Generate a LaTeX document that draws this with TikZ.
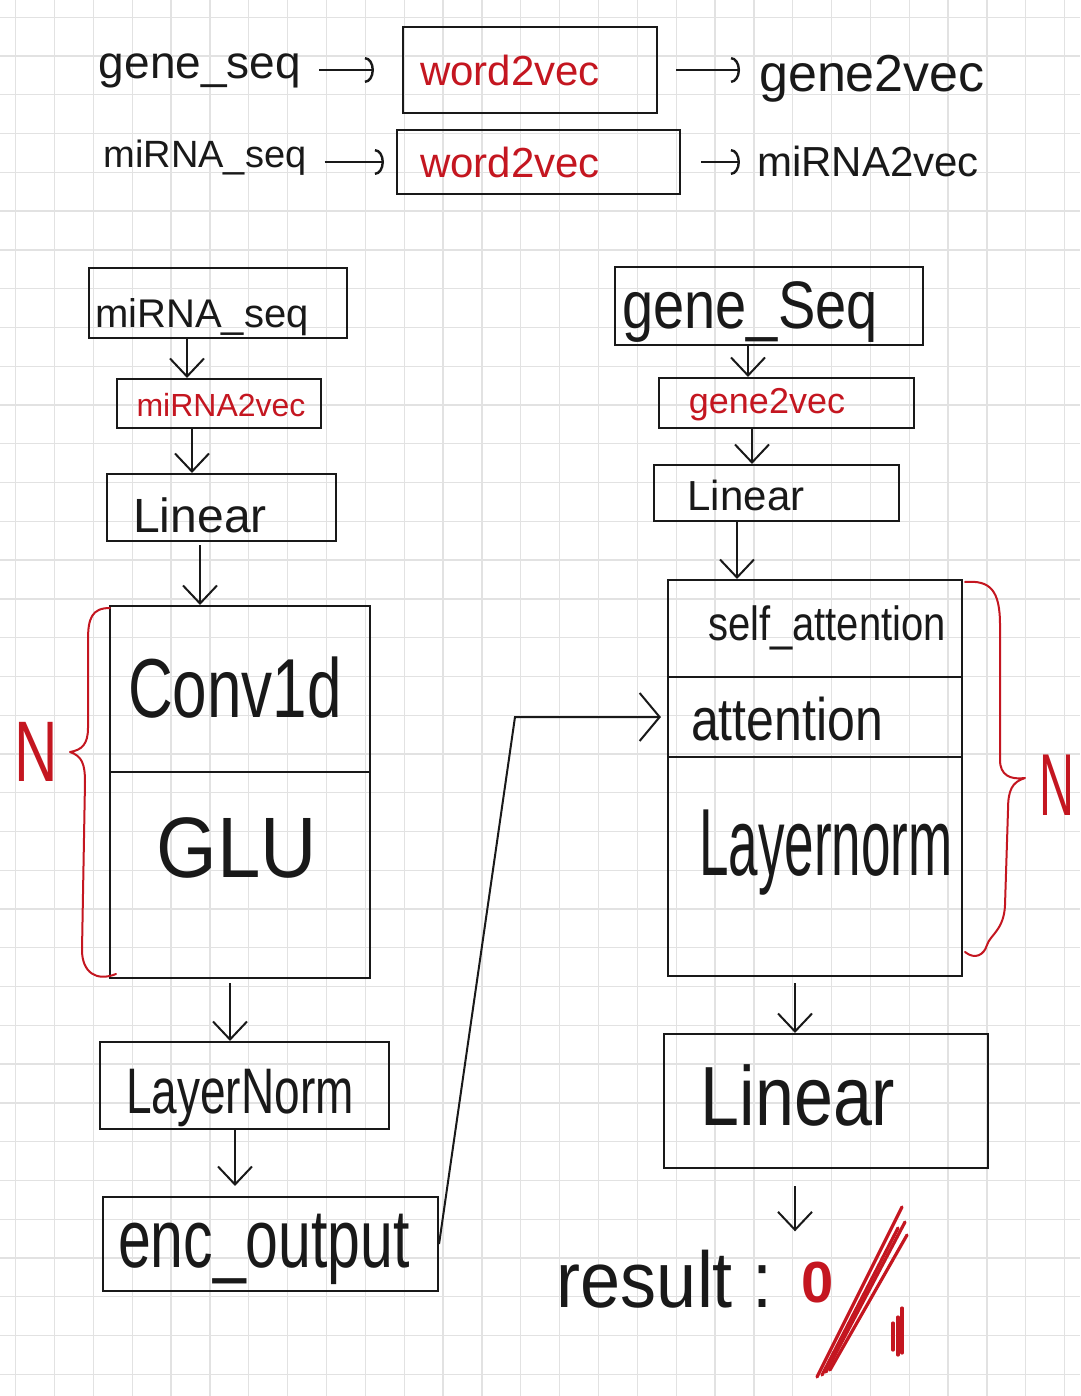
\documentclass[tikz,border=0pt]{standalone}
\usepackage{graphicx}
\usepackage{fontspec}
\setmainfont{Liberation Sans}
\usetikzlibrary{arrows.meta,calc}
\definecolor{pen}{RGB}{25,25,25}
\definecolor{ink}{RGB}{196,22,32}
\definecolor{gridc}{RGB}{226,226,226}
\newcommand\vst[2]{\scalebox{1}[#1]{#2}}
\tikzset{
  box/.style={draw=pen,line width=2.1pt,rectangle,inner sep=0pt},
  txt/.style={inner sep=0pt,text=pen,font=\fontsize{#1}{#1}\selectfont},
  rtxt/.style={inner sep=0pt,text=ink,font=\fontsize{#1}{#1}\selectfont},
  arr/.style={draw=pen,line width=2pt,-{Straight Barb[length=18pt,width=34pt]}},
  tarr/.style={draw=pen,line width=2.4pt,-{Arc Barb[length=9pt,width=26pt]}},
  bigarr/.style={draw=pen,line width=2pt,-{Straight Barb[length=20pt,width=48pt]}},
  brace/.style={draw=ink,line width=2pt,line cap=round,line join=round},
  stroke/.style={draw=ink,line width=3.2pt,line cap=round},
}
\begin{document}
\begin{tikzpicture}[x=1pt,y=-1pt]
\fill[white] (0,0) rectangle (1080,1396);
\useasboundingbox (0,0) rectangle (1080,1396);
\foreach \i in {0,...,27}{\draw[gridc,line width=1.3pt] ({15.7+38.85*\i},0) -- ({15.7+38.85*\i},1396);}
\foreach \j in {0,...,35}{\draw[gridc,line width=1.3pt] (0,{17.3+38.77*\j}) -- (1080,{17.3+38.77*\j});}

% ---------- top rows
\node[txt=46,anchor=base] (gs) at (200,79) {gene\_seq};
\node[box,minimum width=254,minimum height=86] (w1) at (530,70) {};
\node[rtxt=42] (w1t) at (510,70) {word2vec};
\node[txt=52,anchor=base] (g2v) at (872,92) {gene2vec};
\draw[tarr,shorten <=18pt,shorten >=28pt] (gs.east |- w1.west) -- (w1.west);
\draw[tarr,shorten <=18pt,shorten >=19pt] (w1.east) -- (w1.east -| g2v.west);

\node[txt=38,anchor=base] (ms) at (205,168) {miRNA\_seq};
\node[box,minimum width=283,minimum height=64] (w2) at (538.5,162) {};
\node[rtxt=42] (w2t) at (510,162) {word2vec};
\node[txt=42,anchor=base] (m2v) at (868,177) {miRNA2vec};
\draw[tarr,shorten <=18pt,shorten >=12pt] (ms.east |- w2.west) -- (w2.west);
\draw[tarr,shorten <=20pt,shorten >=17pt] (w2.east) -- (w2.east -| m2v.west);

% ---------- left column
\node[box,minimum width=258,minimum height=70] (L1) at (218,303) {};
\node[txt=40,anchor=base] (L1t) at (202,327) {miRNA\_seq};
\node[box,minimum width=204,minimum height=49] (L2) at (219,403.5) {};
\node[rtxt=32] (L2t) at (221,405) {miRNA2vec};
\node[box,minimum width=229,minimum height=67] (L3) at (221.5,507.5) {};
\node[txt=48,anchor=base] (L3t) at (200,532) {Linear};
\node[box,minimum width=260,minimum height=166] (Lcv) at (240,689) {};
\node[txt=62] (Lcvt) at (235,688) {\vst{1.35}{Conv1d}};
\node[box,minimum width=260,minimum height=206] (Lglu) at (240,875) {};
\node[txt=78] (Lglut) at (237,848) {\vst{1.1}{GLU}};
\node[box,minimum width=289,minimum height=87] (L5) at (244.5,1085.5) {};
\node[txt=46,anchor=base] (L5t) at (240,1113) {\vst{1.4}{LayerNorm}};
\node[box,minimum width=335,minimum height=94] (L6) at (270.5,1244) {};
\node[txt=59,anchor=base] (L6t) at (264,1267) {\vst{1.4}{enc\_output}};

\draw[arr] ([xshift=-31pt]L1.south) -- ([xshift=-32pt]L2.north);
\draw[arr] ([xshift=-27pt]L2.south) -- ([xshift=-29.5pt]L3.north);
\draw[arr,shorten <=3pt] ([xshift=-21.5pt]L3.south) -- ([xshift=-40pt]Lcv.north);
\draw[arr,shorten <=4pt] ([xshift=-10pt]Lglu.south) -- ([xshift=-14.5pt]L5.north);
\draw[arr,shorten >=10pt] ([xshift=-9.5pt]L5.south) -- ([xshift=-35.5pt]L6.north);

\draw[brace] (110,608) .. controls (92,608) and (88,618) .. (88,640) -- (88,728)
  .. controls (88,744) and (82,750) .. (70,752) .. controls (82,756) and (85,764) .. (85,782)
  -- (82,950) .. controls (82,972) and (96,982) .. (116,974);
\node[rtxt=86] (NL) at (36,752) {\scalebox{0.7}[1]{N}};

% ---------- right column
\node[box,minimum width=308,minimum height=78] (R1) at (769,306) {};
\node[txt=56,anchor=base] (R1t) at (750,328) {\vst{1.2}{gene\_Seq}};
\node[box,minimum width=255,minimum height=50] (R2) at (786.5,403) {};
\node[rtxt=36] (R2t) at (767,405) {gene2vec};
\node[box,minimum width=245,minimum height=56] (R3) at (776.5,493) {};
\node[txt=42] (R3t) at (746,495) {Linear};
\node[box,minimum width=294,minimum height=97] (Rsa) at (815,628.5) {};
\node[txt=40,anchor=base] (Rsat) at (827,640) {\vst{1.2}{self\_attention}};
\node[box,minimum width=294,minimum height=80] (Rat) at (815,717) {};
\node[txt=50,anchor=base] (Ratt) at (787,740) {\vst{1.2}{attention}};
\node[box,minimum width=294,minimum height=219] (Rln) at (815,866.5) {};
\node[txt=53,anchor=base] (Rlnt) at (826,875) {\vst{1.8}{Layernorm}};
\node[box,minimum width=324,minimum height=134] (R5) at (826,1101) {};
\node[txt=70,anchor=base] (R5t) at (798,1125) {\vst{1.2}{Linear}};
\node[txt=72,anchor=base] (res) at (665,1307) {\vst{1.1}{result :}};
\node[rtxt=58,anchor=base] (zero) at (818,1302) {\bfseries 0};

\draw[arr] ([xshift=-21pt]R1.south) -- ([xshift=-38.5pt]R2.north);
\draw[arr] ([xshift=-34.5pt]R2.south) -- ([xshift=-24.5pt]R3.north);
\draw[arr] ([xshift=-39.5pt]R3.south) -- ([xshift=-78pt]Rsa.north);
\draw[arr,shorten <=6pt] ([xshift=-20pt]Rln.south) -- ([xshift=-31pt]R5.north);
\draw[arr,shorten <=17pt,shorten >=30pt] ([xshift=-31pt]R5.south) -- ([xshift=-23pt]zero.north);

\draw[brace] (965,582) .. controls (990,580) and (1000,590) .. (1000,625) -- (1000,760)
  .. controls (1000,775) and (1010,780) .. (1025,778) .. controls (1012,782) and (1008,790) .. (1008,810)
  -- (1005,905) .. controls (1004,930) and (990,935) .. (987,945) .. controls (984,955) and (975,960) .. (965,952);
\node[rtxt=88] (NR) at (1057,785) {\scalebox{0.55}[1]{N}};

% ---------- encoder output to attention
\coordinate (bend) at (515,717);
\draw[bigarr,shorten >=6pt] (L6.east) -- (bend) -- (Rat.west);

% ---------- red marks
\draw[stroke] (902,1207) -- (817,1377);
\draw[stroke] (898,1228) -- (822,1375);
\draw[stroke] (907,1235) -- (830,1370);
\draw[stroke] (905,1222) -- (826,1372);
\draw[stroke] (893,1323) -- (893,1350);
\draw[stroke] (898,1317) -- (898,1355);
\draw[stroke] (902,1308) -- (902,1353);
\end{tikzpicture}
\end{document}
